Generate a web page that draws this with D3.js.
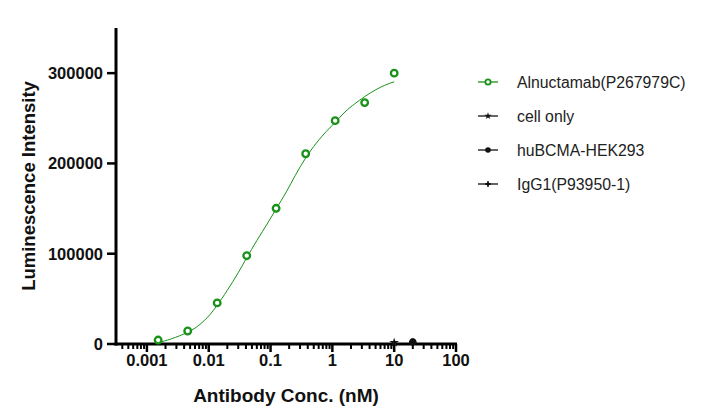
<!DOCTYPE html>
<html>
<head>
<meta charset="utf-8">
<script src="https://cdn.jsdelivr.net/npm/d3@7"></script>
<style>
  body { margin: 0; background: #fff; }
  text { font-family: Arial, "Liberation Sans", sans-serif; }
</style>
</head>
<body>
<script>
// data
var alnConc = [0.00152, 0.00457, 0.0137, 0.0412, 0.123, 0.370, 1.11, 3.33, 10];
var alnValues = [4400, 14400, 45500, 97800, 150300, 210700, 247400, 267400, 300000];

// fitted curve
var fitConc = [0.00152, 0.0025, 0.00457, 0.007, 0.01, 0.0137, 0.02, 0.03, 0.0412, 0.06, 0.09,
               0.123, 0.18, 0.25, 0.37, 0.55, 0.8, 1.11, 1.6, 2.3, 3.33, 5, 7, 10];
var fitValues = [1500, 5800, 13000, 21000, 31000, 43000, 59500, 79000, 95500, 114500, 134000,
                 149500, 168500, 186500, 206000, 222500, 235500, 245500, 257000, 266000, 274000, 281500, 286500, 290500];

var cellOnlyConc = [10];
var cellOnlyValues = [1500];
var hekConc = [20];
var hekValues = [2500];
var iggConc = [20];
var iggValues = [2000];

var seriesNames = ["Alnuctamab(P267979C)", "cell only", "huBCMA-HEK293", "IgG1(P93950-1)"];
var yTicks = [0, 100000, 200000, 300000];
var xTicks = [0.001, 0.01, 0.1, 1, 10, 100];
var xTickLabels = ["0.001", "0.01", "0.1", "1", "10", "100"];

var width = 706,
    height = 417;
var green = "#1a921a";

var svg = d3.select("body").append("svg")
    .attr("width", width)
    .attr("height", height);

var x = d3.scaleLog()
    .domain([Math.pow(10, -3.5), 100])
    .range([116, 456]);

var y = d3.scaleLinear()
    .domain([0, 350000])
    .range([344, 28]);

// minor ticks: 2..9 in every decade inside the domain
var minorTicks = [];
[-4, -3, -2, -1, 0, 1].forEach(function(e) {
    for (var m = 2; m <= 9; m++) {
        var v = m * Math.pow(10, e);
        if (v > x.domain()[0] && v < 100) minorTicks.push(v);
    }
});

// x axis
var xAxis = svg.append("g").attr("transform", "translate(0,344)");
xAxis.append("line")
    .attr("x1", x.range()[0] - 1.5).attr("x2", x.range()[1] + 1)
    .attr("stroke", "#000").attr("stroke-width", 3);
xAxis.selectAll(".minor").data(minorTicks).enter().append("line")
    .attr("x1", function(d) { return x(d); })
    .attr("x2", function(d) { return x(d); })
    .attr("y1", 0).attr("y2", 5)
    .attr("stroke", "#000").attr("stroke-width", 2);
xAxis.selectAll(".major").data(xTicks).enter().append("line")
    .attr("x1", function(d) { return x(d); })
    .attr("x2", function(d) { return x(d); })
    .attr("y1", 0).attr("y2", 8)
    .attr("stroke", "#000").attr("stroke-width", 2.5);
xAxis.selectAll(".lbl").data(xTicks).enter().append("text")
    .attr("x", function(d) { return x(d); })
    .attr("y", 22)
    .attr("text-anchor", "middle")
    .attr("font-size", 16.5).attr("font-weight", "bold")
    .attr("fill", "#111")
    .text(function(d, i) { return xTickLabels[i]; });

svg.append("text")
    .attr("x", (x.range()[0] + x.range()[1]) / 2)
    .attr("y", 402)
    .attr("text-anchor", "middle")
    .attr("font-size", 19).attr("font-weight", "bold")
    .attr("fill", "#111")
    .text("Antibody Conc. (nM)");

// y axis
var yAxis = svg.append("g").attr("transform", "translate(116,0)");
yAxis.append("line")
    .attr("y1", y.range()[1]).attr("y2", y.range()[0] + 1.5)
    .attr("stroke", "#000").attr("stroke-width", 3);
yAxis.selectAll(".tk").data(yTicks).enter().append("line")
    .attr("x1", -9).attr("x2", 0)
    .attr("y1", function(d) { return y(d); })
    .attr("y2", function(d) { return y(d); })
    .attr("stroke", "#000").attr("stroke-width", 2.5);
yAxis.selectAll(".lbl").data(yTicks).enter().append("text")
    .attr("x", -13)
    .attr("y", function(d) { return y(d) + 6; })
    .attr("text-anchor", "end")
    .attr("font-size", 16.5).attr("font-weight", "bold")
    .attr("fill", "#111")
    .text(function(d) { return d; });

svg.append("text")
    .attr("transform", "translate(35," + ((y.range()[0] + y.range()[1]) / 2) + ") rotate(-90)")
    .attr("text-anchor", "middle")
    .attr("font-size", 18.5).attr("font-weight", "bold")
    .attr("fill", "#111")
    .text("Luminescence Intensity");

// fitted curve
var line = d3.line()
    .x(function(d, i) { return x(fitConc[i]); })
    .y(function(d) { return y(d); })
    .curve(d3.curveNatural);

svg.append("path")
    .attr("d", line(fitValues))
    .attr("fill", "none")
    .attr("stroke", green)
    .attr("stroke-width", 1);

// Alnuctamab points
svg.selectAll(".aln").data(alnValues).enter().append("circle")
    .attr("cx", function(d, i) { return x(alnConc[i]); })
    .attr("cy", function(d) { return y(d); })
    .attr("r", 3.3)
    .attr("fill", "#fff")
    .attr("stroke", green)
    .attr("stroke-width", 2.3);

// controls
var starSym = d3.symbol().type(d3.symbolStar).size(28);
var crossSym = d3.symbol().type(d3.symbolCross).size(30);

svg.selectAll(".cell").data(cellOnlyValues).enter().append("path")
    .attr("d", starSym)
    .attr("transform", function(d, i) { return "translate(" + x(cellOnlyConc[i]) + "," + y(d) + ")"; })
    .attr("fill", "#111");
svg.selectAll(".hek").data(hekValues).enter().append("circle")
    .attr("cx", function(d, i) { return x(hekConc[i]); })
    .attr("cy", function(d) { return y(d); })
    .attr("r", 3.5)
    .attr("fill", "#111");
svg.selectAll(".igg").data(iggValues).enter().append("path")
    .attr("d", crossSym)
    .attr("transform", function(d, i) { return "translate(" + x(iggConc[i]) + "," + y(d) + ")"; })
    .attr("fill", "#111");

// legend
var legend = svg.append("g").attr("transform", "translate(478,82)");
var rows = legend.selectAll(".row").data(seriesNames).enter().append("g")
    .attr("transform", function(d, i) { return "translate(0," + (i * 34) + ")"; });

rows.append("line")
    .attr("x1", 0).attr("x2", 20)
    .attr("stroke", function(d, i) { return i == 0 ? green : "#111"; })
    .attr("stroke-width", 1.3);
rows.append("text")
    .attr("x", 39).attr("y", 6)
    .attr("font-size", 15.8)
    .attr("fill", "#222")
    .text(function(d) { return d; });

rows.each(function(d, i) {
    var g = d3.select(this);
    if (i == 0) {
        g.append("circle").attr("cx", 10).attr("r", 2.6)
            .attr("fill", "#fff").attr("stroke", green).attr("stroke-width", 1.8);
    } else if (i == 1) {
        g.append("path").attr("d", d3.symbol().type(d3.symbolStar).size(16))
            .attr("transform", "translate(10,0)").attr("fill", "#111");
    } else if (i == 2) {
        g.append("circle").attr("cx", 10).attr("r", 2.8).attr("fill", "#111");
    } else {
        g.append("path").attr("d", d3.symbol().type(d3.symbolCross).size(18))
            .attr("transform", "translate(10,0)").attr("fill", "#111");
    }
});
</script>
</body>
</html>
